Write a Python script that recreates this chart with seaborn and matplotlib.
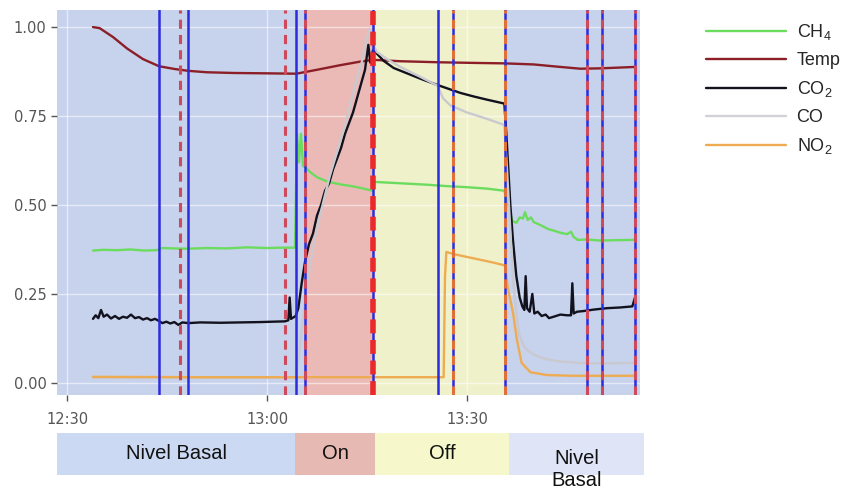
import matplotlib
matplotlib.use("Agg")
import matplotlib.pyplot as plt
import seaborn as sns
import pandas as pd

# times are minutes after 12:00, values are normalised readings
ch4 = [(33.9, 0.372), (35.5, 0.374), (37.5, 0.373), (39.5, 0.375), (41.5, 0.372), (43.5, 0.373),
       (44.2, 0.379), (46.0, 0.378), (48.0, 0.377), (51.0, 0.379), (54.0, 0.378), (57.0, 0.381),
       (60.0, 0.379), (62.0, 0.380), (64.2, 0.380), (64.5, 0.700), (64.8, 0.620), (65.1, 0.700),
       (65.4, 0.610), (65.8, 0.605), (66.5, 0.592), (67.5, 0.578), (69.0, 0.566), (71.0, 0.558),
       (73.0, 0.552), (74.5, 0.546), (75.8, 0.540), (76.1, 0.565), (78.0, 0.563), (81.0, 0.560),
       (84.0, 0.557), (87.0, 0.553), (90.0, 0.550), (93.0, 0.546), (95.6, 0.540), (96.2, 0.500),
       (96.8, 0.455), (97.4, 0.450), (97.9, 0.465), (98.4, 0.462), (98.7, 0.480), (99.1, 0.458),
       (99.6, 0.465), (100.0, 0.452), (100.6, 0.447), (101.4, 0.440), (102.2, 0.432), (103.0, 0.428),
       (104.0, 0.422), (105.0, 0.418), (105.6, 0.425), (106.0, 0.410), (106.6, 0.402), (108.0, 0.403),
       (110.0, 0.400), (112.0, 0.401), (115.2, 0.402)]

temp = [(33.9, 1.000), (34.9, 0.997), (36.9, 0.972), (39.0, 0.940), (41.4, 0.910), (43.8, 0.890),
        (46.2, 0.882), (48.2, 0.877), (51.0, 0.873), (55.0, 0.871), (60.0, 0.870), (64.4, 0.869),
        (67.5, 0.880), (71.0, 0.893), (74.0, 0.903), (75.9, 0.908), (80.0, 0.904), (86.0, 0.901),
        (92.0, 0.899), (95.7, 0.898), (100.0, 0.895), (104.0, 0.888), (107.0, 0.883), (110.0, 0.884),
        (115.2, 0.888)]

co2 = [(33.9, 0.180), (34.3, 0.190), (34.7, 0.182), (35.1, 0.205), (35.5, 0.186), (36.0, 0.192),
       (36.6, 0.181), (37.2, 0.188), (37.8, 0.180), (38.4, 0.186), (39.0, 0.183), (39.6, 0.192),
       (40.2, 0.182), (40.8, 0.185), (41.4, 0.178), (42.0, 0.182), (42.6, 0.176), (43.2, 0.180),
       (43.8, 0.174), (44.3, 0.168), (44.9, 0.172), (45.5, 0.167), (46.1, 0.171), (46.7, 0.163),
       (47.3, 0.170), (48.2, 0.168), (50.0, 0.170), (53.0, 0.169), (56.0, 0.170), (59.0, 0.171),
       (62.7, 0.173), (63.2, 0.176), (63.4, 0.240), (63.6, 0.180), (64.3, 0.188), (64.7, 0.210),
       (65.2, 0.280), (65.7, 0.340), (66.3, 0.390), (66.9, 0.420), (67.5, 0.470), (68.1, 0.500),
       (68.7, 0.540), (69.3, 0.560), (69.9, 0.600), (70.5, 0.630), (71.1, 0.660), (71.7, 0.700),
       (72.3, 0.730), (72.9, 0.760), (73.5, 0.800), (74.1, 0.840), (74.7, 0.880), (75.2, 0.950),
       (75.5, 0.900), (75.9, 0.935), (76.5, 0.925), (77.5, 0.905), (79.0, 0.885), (81.0, 0.870),
       (83.0, 0.855), (85.6, 0.837), (87.0, 0.828), (89.0, 0.815), (91.0, 0.805), (93.0, 0.796),
       (95.6, 0.785), (95.9, 0.700), (96.2, 0.600), (96.5, 0.500), (96.9, 0.400), (97.4, 0.300),
       (97.9, 0.240), (98.3, 0.215), (98.6, 0.205), (98.8, 0.300), (99.0, 0.210), (99.4, 0.200),
       (99.8, 0.250), (100.1, 0.195), (100.6, 0.200), (101.2, 0.188), (101.8, 0.192), (102.3, 0.182),
       (103.0, 0.186), (104.0, 0.192), (105.0, 0.190), (105.6, 0.190), (105.8, 0.280), (106.0, 0.195),
       (106.5, 0.200), (107.5, 0.202), (109.0, 0.206), (111.0, 0.210), (113.0, 0.212), (114.8, 0.215),
       (115.2, 0.240)]

co = [(33.9, 0.014), (64.3, 0.014), (64.8, 0.080), (65.5, 0.200), (66.2, 0.300), (67.0, 0.390),
      (67.8, 0.460), (68.6, 0.520), (69.4, 0.580), (70.2, 0.630), (71.0, 0.680), (71.8, 0.730),
      (72.6, 0.790), (73.4, 0.850), (74.2, 0.900), (74.9, 0.960), (75.4, 0.995), (75.9, 0.950),
      (76.5, 0.930), (78.0, 0.910), (80.0, 0.888), (83.0, 0.860), (85.6, 0.835), (86.4, 0.800),
      (87.5, 0.780), (90.0, 0.760), (93.0, 0.742), (95.6, 0.725), (96.0, 0.600), (96.5, 0.430),
      (96.9, 0.290), (97.5, 0.180), (97.9, 0.130), (98.5, 0.105), (99.0, 0.093), (100.0, 0.080),
      (101.0, 0.072), (102.2, 0.065), (104.0, 0.060), (107.0, 0.056), (110.0, 0.055), (115.2, 0.056)]

no2 = [(33.9, 0.017), (50.0, 0.016), (65.0, 0.016), (75.0, 0.016), (86.5, 0.016), (86.7, 0.300),
       (86.9, 0.368), (88.0, 0.362), (90.0, 0.354), (92.0, 0.346), (94.0, 0.338), (95.7, 0.330),
       (96.1, 0.270), (96.9, 0.197), (97.5, 0.120), (98.2, 0.056), (99.5, 0.030), (102.0, 0.022),
       (106.0, 0.020), (115.2, 0.020)]

series_names = ["CH$_4$", "Temp", "CO$_2$", "CO", "NO$_2$"]
series_data = [ch4, temp, co2, co, no2]
series_colors = ["#6cdc5e", "#8b1e26", "#12121e", "#c9c9cf", "#eeac52"]

# background phases
bg_start = [0, 65.7, 75.9, 95.7]
bg_end = [65.7, 75.9, 95.7, 200]
bg_colors = ["#c7d2ec", "#ebbab6", "#eff1cb", "#c7d2ec"]

# event markers
vline_times = [43.8, 46.95, 48.15, 62.7, 64.35, 65.7, 75.9, 85.65, 87.9, 95.7, 108.0, 110.25, 115.2]
vline_kind = ["blue", "red", "blue", "red", "blue", "blue_red", "blue_bold", "blue",
              "blue_orange", "blue_orange", "blue_red", "blue_red", "blue_red"]

# phase bar under the chart
phase_labels = ["Nivel Basal", "On", "Off", "Nivel\nBasal"]
phase_start = [28.5, 64.2, 76.2, 96.3]
phase_end = [64.2, 76.2, 96.3, 116.55]
phase_colors = ["#cbd9f3", "#e6b9b2", "#f6f8cc", "#dfe5f6"]

x_ticks = [30, 60, 90]
x_ticklabels = ["12:30", "13:00", "13:30"]
y_ticks = [0, 0.25, 0.5, 0.75, 1.0]

sns.set_style("white")
plt.rcParams["font.family"] = ["DejaVu Sans"]
plt.rcParams["mathtext.default"] = "regular"

rows = []
for name, pts in zip(series_names, series_data):
    for t, v in pts:
        rows.append({"t": t, "value": v, "series": name})
df = pd.DataFrame(rows)

fig = plt.figure(figsize=(8.6, 4.9), dpi=100)
ax = fig.add_axes([57 / 860, 1 - 395 / 490, 583 / 860, 385 / 490])

for s, e, c in zip(bg_start, bg_end, bg_colors):
    ax.axvspan(s, e, color=c, lw=0, zorder=0)

ax.set_axisbelow(False)
for yt in y_ticks:
    ax.axhline(yt, color="white", lw=1, alpha=0.55, zorder=1)
for xt in x_ticks:
    ax.axvline(xt, color="white", lw=1, alpha=0.55, zorder=1)

sns.lineplot(data=df, x="t", y="value", hue="series", hue_order=series_names,
             palette=dict(zip(series_names, series_colors)), estimator=None,
             errorbar=None, sort=True, linewidth=1.7, ax=ax, zorder=3)
for line, name in zip(ax.lines[-5:], series_names):
    if name == "CO":
        line.set_linewidth(2.4)
        line.set_alpha(0.85)

handles, labels = ax.get_legend_handles_labels()
ax.get_legend().remove()

for t, kind in zip(vline_times, vline_kind):
    if kind.startswith("blue"):
        ax.axvline(t, color="#2b2be0", lw=1.8, zorder=4)
    if kind == "red" or kind == "blue_red":
        ax.axvline(t, color="#cc4a5c", lw=2.2, dashes=(3, 2), zorder=5)
    if kind == "blue_orange":
        ax.axvline(t, color="#e0703a", lw=2.2, dashes=(3, 2), zorder=5)
    if kind == "blue_bold":
        ax.axvline(t, color="#ea2a2a", lw=4.0, dashes=(2.5, 1.2), zorder=5)

ax.set_xlim(28.5, 115.95)
ax.set_ylim(-0.034, 1.048)
ax.set_xticks(x_ticks)
ax.set_xticklabels(x_ticklabels)
ax.set_yticks(y_ticks)
ax.set_yticklabels([f"{v:.2f}" for v in y_ticks])
ax.tick_params(axis="both", colors="#555555", labelsize=10.5, length=4, width=1,
               direction="out", left=True, bottom=True)
ax.tick_params(axis="x", pad=8)
ax.set_xlabel("")
ax.set_ylabel("")
for sp in ax.spines.values():
    sp.set_visible(False)

leg = fig.legend(handles, labels, loc="upper left", bbox_to_anchor=(690 / 860, 1 - 6 / 490),
                 frameon=False, handlelength=4.4, handletextpad=0.6,
                 labelspacing=0.55, prop={"family": "Liberation Sans", "size": 13})
for h in leg.get_lines():
    h.set_linewidth(1.7)

# phase strip
bax = fig.add_axes([57 / 860, 1 - 475 / 490, 587 / 860, 42 / 490])
bax.barh([0] * len(phase_labels), [e - s for s, e in zip(phase_start, phase_end)],
         left=phase_start, height=1, color=phase_colors, edgecolor="none")
for lab, s, e in zip(phase_labels, phase_start, phase_end):
    yy = 0.13 if "\n" in lab else 0.52
    bax.text((s + e) / 2, -0.5 + yy, lab, ha="center", va="center", fontsize=14.5,
             family="Liberation Sans", color="#111111", linespacing=1.15, clip_on=False)
bax.set_xlim(28.5, 116.55)
bax.set_ylim(-0.5, 0.5)
bax.axis("off")

fig.savefig("out.png", dpi=100)
